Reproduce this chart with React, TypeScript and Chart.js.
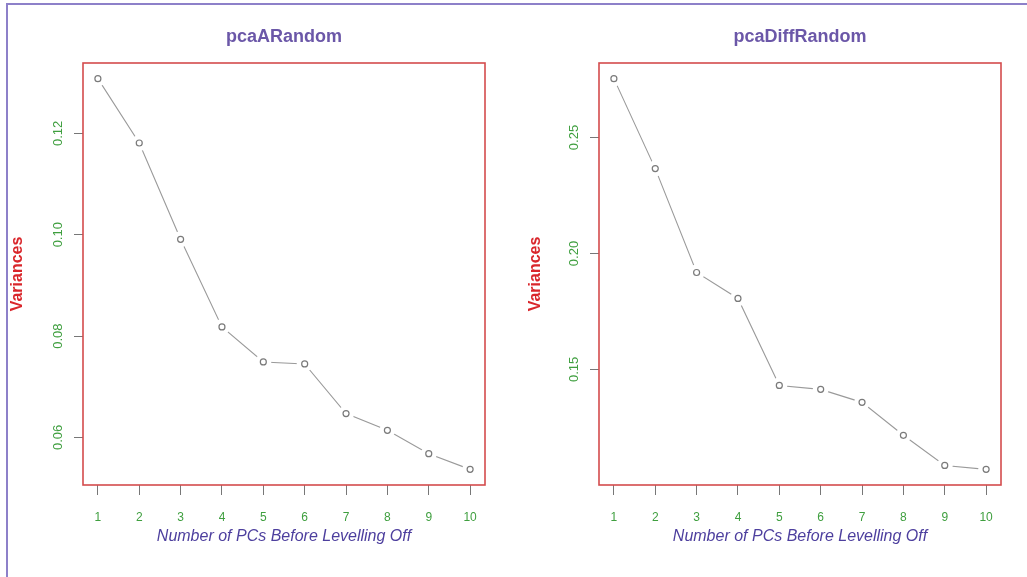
import React, { useEffect, useRef } from "react";
import { Chart, registerables } from "chart.js";

Chart.register(...registerables);

// Principal component indices
const pcIndex = [1, 2, 3, 4, 5, 6, 7, 8, 9, 10];

// Variance of each principal component
const pcaARandomVariances = [0.1308, 0.1181, 0.0991, 0.0818, 0.0749, 0.0745, 0.0647, 0.0614, 0.0568, 0.0537];
const pcaDiffRandomVariances = [0.2754, 0.2366, 0.1918, 0.1806, 0.1431, 0.1414, 0.1358, 0.1216, 0.1086, 0.1069];

// Axis tick labels
const xTicks = [1, 2, 3, 4, 5, 6, 7, 8, 9, 10];
const pcaARandomYTicks = [0.06, 0.08, 0.1, 0.12];
const pcaDiffRandomYTicks = [0.15, 0.2, 0.25];

const titleColor = "#6b57a8";
const xTitleColor = "#4d3f9e";
const yTitleColor = "#d9262b";
const tickLabelColor = "#3f9f3f";
const boxColor = "#d44b4d";
const lineColor = "#9a9a9a";
const circleColor = "#7a7a7a";
const FONT = "'Liberation Sans', Arial, sans-serif";

// R-style axis range: data extent padded by 4% on each side
function paddedRange(values: number[]) {
  const lo = Math.min(...values);
  const hi = Math.max(...values);
  const pad = (hi - lo) * 0.04;
  return { min: lo - pad, max: hi + pad };
}

const boxPlugin = {
  id: "plotBox",
  afterDraw(chart: any) {
    const { ctx, chartArea } = chart;
    ctx.save();
    ctx.strokeStyle = boxColor;
    ctx.lineWidth = 1.6;
    ctx.strokeRect(chartArea.left, chartArea.top, chartArea.right - chartArea.left, chartArea.bottom - chartArea.top);
    ctx.restore();
  },
};

type PanelProps = {
  title: string;
  values: number[];
  yTicks: number[];
  yTickDigits: number;
  left: number;
  width: number;
  yAxisWidth: number;
  rightPad: number;
  yTitlePad: number;
  yTickPad: number;
};

function ScreePanel(p: PanelProps) {
  const ref = useRef<HTMLCanvasElement | null>(null);

  useEffect(() => {
    if (!ref.current) return;
    const xr = paddedRange(pcIndex);
    const yr = paddedRange(p.values);
    const points = pcIndex.map((x, i) => ({ x, y: p.values[i] }));

    const chart = new Chart(ref.current, {
      type: "line",
      data: {
        datasets: [
          {
            // connecting line
            data: points,
            borderColor: lineColor,
            borderWidth: 1.1,
            pointRadius: 0,
            clip: false,
            order: 3,
          },
          {
            // white gap around each point, so segments stop short of the markers
            data: points,
            showLine: false,
            pointRadius: 8,
            pointBackgroundColor: "#ffffff",
            pointBorderWidth: 0,
            pointBorderColor: "rgba(255,255,255,0)",
            clip: false,
            order: 2,
          },
          {
            // open circle markers
            data: points,
            showLine: false,
            pointRadius: 3,
            pointBackgroundColor: "#ffffff",
            pointBorderColor: circleColor,
            pointBorderWidth: 1.2,
            clip: false,
            order: 1,
          },
        ],
      },
      options: {
        animation: false,
        responsive: false,
        maintainAspectRatio: false,
        events: [],
        layout: { padding: { top: 0, left: 0, right: p.rightPad, bottom: 0 } },
        plugins: {
          legend: { display: false },
          tooltip: { enabled: false },
          title: {
            display: true,
            text: p.title,
            color: titleColor,
            fullSize: false,
            font: { family: FONT, size: 18, weight: "bold", lineHeight: 1.2 },
            padding: { top: 26, bottom: 15.4 },
          },
        },
        scales: {
          x: {
            type: "linear",
            min: xr.min,
            max: xr.max,
            afterFit: (s: any) => {
              s.height = 92;
            },
            afterBuildTicks: (s: any) => {
              s.ticks = xTicks.map((v) => ({ value: v }));
            },
            grid: {
              drawOnChartArea: false,
              drawTicks: true,
              tickLength: 10,
              tickColor: "#777777",
              tickWidth: 1,
            },
            border: { display: false },
            ticks: {
              color: tickLabelColor,
              font: { family: FONT, size: 12 },
              padding: 15,
              maxRotation: 0,
              autoSkip: false,
              callback: (v: any) => String(v),
            },
            title: {
              display: true,
              text: "Number of PCs Before Levelling Off",
              color: xTitleColor,
              font: { family: FONT, size: 16, style: "italic", lineHeight: 1.2 },
              padding: { top: 0, bottom: 31 },
            },
          },
          y: {
            type: "linear",
            min: yr.min,
            max: yr.max,
            afterFit: (s: any) => {
              s.width = p.yAxisWidth;
            },
            afterBuildTicks: (s: any) => {
              s.ticks = p.yTicks.map((v) => ({ value: v }));
            },
            grid: {
              drawOnChartArea: false,
              drawTicks: true,
              tickLength: 9,
              tickColor: "#777777",
              tickWidth: 1,
            },
            border: { display: false },
            ticks: {
              color: tickLabelColor,
              font: { family: FONT, size: 13 },
              padding: p.yTickPad,
              minRotation: 90,
              maxRotation: 90,
              crossAlign: "center",
              autoSkip: false,
              callback: (v: any) => Number(v).toFixed(p.yTickDigits),
            },
            title: {
              display: true,
              text: "Variances",
              color: yTitleColor,
              font: { family: FONT, size: 16, weight: "bold", lineHeight: 1.2 },
              padding: { top: p.yTitlePad, bottom: 0 },
            },
          },
        },
      },
      plugins: [boxPlugin],
    } as any);

    return () => chart.destroy();
  }, []);

  return (
    <canvas
      ref={ref}
      width={p.width}
      height={577}
      style={{ position: "absolute", left: p.left, top: 0, width: p.width, height: 577 }}
    />
  );
}

export default function App() {
  return (
    <div
      style={{
        position: "absolute",
        left: 0,
        top: 0,
        width: 1027,
        height: 577,
        background: "#ffffff",
        overflow: "hidden",
      }}
    >
      <div style={{ position: "absolute", left: 6, top: 3, width: 2, height: 577, background: "#8d80c9" }} />
      <div style={{ position: "absolute", left: 6, top: 3, width: 1030, height: 2, background: "#8d80c9" }} />
      <ScreePanel
        title="pcaARandom"
        values={pcaARandomVariances}
        yTicks={pcaARandomYTicks}
        yTickDigits={2}
        left={0}
        width={515}
        yAxisWidth={83}
        rightPad={30}
        yTitlePad={8}
        yTickPad={3}
      />
      <ScreePanel
        title="pcaDiffRandom"
        values={pcaDiffRandomVariances}
        yTicks={pcaDiffRandomYTicks}
        yTickDigits={2}
        left={515}
        width={512}
        yAxisWidth={84}
        rightPad={26}
        yTitlePad={11}
        yTickPad={3}
      />
    </div>
  );
}
